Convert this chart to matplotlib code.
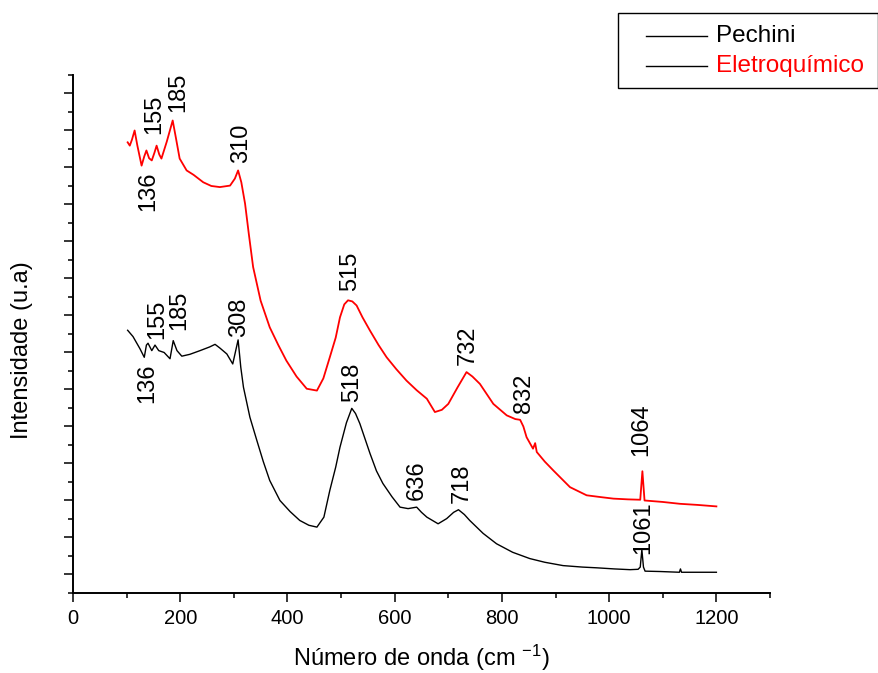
"""Raman spectra, Pechini vs Eletroquímico, offset stacked."""

import matplotlib
matplotlib.use("Agg")
import matplotlib.pyplot as plt
from matplotlib.lines import Line2D
from matplotlib.patches import Rectangle
from matplotlib.ticker import MultipleLocator

plt.rcParams["font.family"] = ["Liberation Sans", "DejaVu Sans"]
plt.rcParams["mathtext.fontset"] = "custom"
plt.rcParams["mathtext.rm"] = "Liberation Sans"
plt.rcParams["mathtext.it"] = "Liberation Sans"

# Pechini (black), wavenumber / intensity (arb. offset units)
pech_x = [102, 112, 125, 133, 137, 140, 147, 153, 160, 170, 181, 187, 194, 203,
          218, 237, 255, 265, 274, 287, 298, 308, 311, 313, 318, 330, 343, 355,
          367, 386, 405, 423, 440, 455, 468, 479, 490, 498, 510, 520, 527, 535,
          554, 566, 578, 595, 610, 625, 641, 650, 660, 681, 697, 710, 719, 730,
          740, 765, 790, 820, 852, 880, 914, 950, 977, 1010, 1039, 1054, 1058,
          1061, 1064, 1067, 1095, 1131, 1133, 1135, 1200]
pech_y = [6.60, 6.43, 6.10, 5.87, 6.20, 6.25, 6.05, 6.20, 6.05, 6.00, 5.83, 6.32,
          6.05, 5.90, 5.95, 6.05, 6.15, 6.22, 6.12, 5.96, 5.69, 6.34, 5.90, 5.60,
          5.06, 4.25, 3.62, 3.05, 2.54, 2.00, 1.70, 1.46, 1.33, 1.28, 1.55, 2.27,
          2.90, 3.44, 4.10, 4.49, 4.35, 4.08, 3.27, 2.80, 2.46, 2.10, 1.82, 1.78,
          1.82, 1.68, 1.55, 1.37, 1.51, 1.68, 1.75, 1.62, 1.46, 1.11, 0.83, 0.60,
          0.43, 0.33, 0.24, 0.20, 0.18, 0.15, 0.13, 0.14, 0.20, 0.67, 0.20, 0.09,
          0.08, 0.06, 0.15, 0.06, 0.06]

# Eletroquímico (red)
elet_x = [102, 106, 110, 115, 120, 128, 133, 137, 142, 147, 152, 156, 161, 165,
          175, 186, 192, 199, 212, 225, 243, 258, 274, 293, 302, 308, 314, 321,
          328, 336, 350, 367, 383, 398, 417, 436, 455, 467, 479, 490, 498, 506,
          513, 521, 529, 540, 554, 570, 585, 603, 622, 641, 660, 675, 688, 700,
          717, 734, 745, 759, 784, 809, 825, 834, 840, 846, 858, 862, 865, 880,
          896, 927, 958, 985, 1008, 1035, 1058, 1062, 1066, 1100, 1132, 1165, 1200]
elet_y = [11.68, 11.59, 11.75, 12.00, 11.60, 11.05, 11.30, 11.46, 11.25, 11.19,
          11.40, 11.59, 11.35, 11.24, 11.70, 12.27, 11.80, 11.24, 10.92, 10.80,
          10.60, 10.50, 10.47, 10.51, 10.70, 10.92, 10.60, 10.02, 9.20, 8.31,
          7.40, 6.68, 6.20, 5.78, 5.35, 5.02, 4.97, 5.30, 5.87, 6.40, 6.95, 7.30,
          7.41, 7.38, 7.27, 6.95, 6.59, 6.20, 5.87, 5.55, 5.24, 4.98, 4.75, 4.39,
          4.45, 4.61, 5.05, 5.47, 5.35, 5.15, 4.61, 4.30, 4.20, 4.18, 4.00, 3.71,
          3.40, 3.55, 3.31, 3.05, 2.81, 2.36, 2.14, 2.09, 2.05, 2.03, 2.02, 2.79,
          2.00, 1.96, 1.91, 1.88, 1.84]

# peak annotations: text, x, y
pech_labels = ["136", "155", "185", "308", "518", "636", "718", "1061"]
pech_lab_x = [139, 157.6, 197.7, 309.6, 521.3, 641, 725, 1063]
pech_lab_y = [5.16, 6.89, 7.15, 6.96, 5.19, 2.54, 2.46, 1.27]

elet_labels = ["136", "155", "185", "310", "515", "732", "832", "1064"]
elet_lab_x = [139.9, 152, 195.8, 313.3, 516.6, 736.7, 841, 1059.3]
elet_lab_y = [10.35, 12.43, 13.03, 11.65, 8.19, 6.19, 4.89, 3.92]

fig = plt.figure(figsize=(8.79, 6.73), dpi=100)
ax = fig.add_axes([0.0830, 0.1189, 0.7930, 0.7697])

ax.plot(pech_x, pech_y, color="black", lw=1.0)
ax.plot(elet_x, elet_y, color="red", lw=1.3)

for t, x, y in zip(pech_labels, pech_lab_x, pech_lab_y):
    ax.text(x, y, t, rotation=90, ha="center", va="center", fontsize=17)
for t, x, y in zip(elet_labels, elet_lab_x, elet_lab_y):
    ax.text(x, y, t, rotation=90, ha="center", va="center", fontsize=17)

ax.set_xlim(0, 1300)
ax.set_ylim(-0.5, 13.5)
ax.xaxis.set_major_locator(MultipleLocator(200))
ax.xaxis.set_minor_locator(MultipleLocator(100))
ax.yaxis.set_major_locator(MultipleLocator(1))
ax.yaxis.set_minor_locator(MultipleLocator(0.5))
ax.set_yticklabels([])
ax.tick_params(which="major", length=6.5, width=1.1, labelsize=14.5, pad=5)
ax.tick_params(which="minor", length=3.3, width=1.1)
for s in ("top", "right"):
    ax.spines[s].set_visible(False)
for s in ("left", "bottom"):
    ax.spines[s].set_linewidth(1.4)

ax.set_xlabel("Número de onda (cm $^{-1}$)", fontsize=17, labelpad=11)
ax.set_ylabel("Intensidade (u.a)", fontsize=17)
ax.yaxis.set_label_coords(-0.057, 0.469)

# legend box in the top-right corner (sample lines are both black)
fig.add_artist(Rectangle((0.7031, 0.8692), 0.2958, 0.1119, transform=fig.transFigure,
                         fill=False, edgecolor="black", lw=1.0))
leg_names = ["Pechini", "Eletroquímico"]
leg_colors = ["black", "red"]
for i, (name, c) in enumerate(zip(leg_names, leg_colors)):
    yy = 0.9470 - i * 0.0446
    fig.add_artist(Line2D([0.7349, 0.8043], [yy, yy], transform=fig.transFigure,
                          color="black", lw=1.0))
    fig.text(0.8142, yy, name, color=c, fontsize=17.5, va="center", ha="left")

fig.savefig("out.png", dpi=100)
